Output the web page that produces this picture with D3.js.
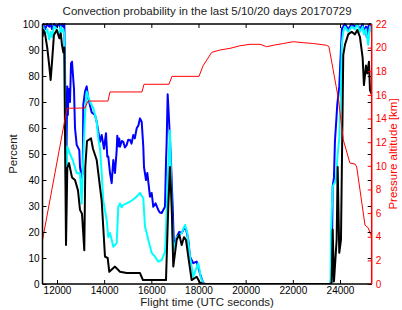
<!DOCTYPE html>
<html><head><meta charset="utf-8">
<script src="https://cdn.jsdelivr.net/npm/d3@7"></script>
<style>
body{margin:0;background:#fff}
svg{display:block}
text{font-family:"Liberation Sans",Arial,Helvetica,sans-serif}
</style>
</head><body>
<svg id="chart" width="402" height="310"></svg>
<script>
// ---- data ----
const xTicks = [12000,14000,16000,18000,20000,22000,24000];
const pctTicks = [0,10,20,30,40,50,60,70,80,90,100];
const kmTicks = [0,2,4,6,8,10,12,14,16,18,20,22];

// 20 days (blue)
const tBlue = [11385,11420,11490,11590,11670,11730,11790,11870,11990,12100,12160,12210,12270,12310,12339,12382,12400,12437,12460,12479,12509,12551,12595,12636,12721,12763,12835,12946,12975,13047,13090,13115,13187,13259,13327,13471,13611,13683,13751,13823,13895,13993,14077,14132,14175,14247,14319,14387,14459,14531,14556,14600,14640,14671,14750,14811,14880,14955,15020,15095,15160,15235,15300,15379,15450,15519,15591,15659,15689,15774,15829,15943,16015,16083,16180,16295,16360,16439,16579,16622,16651,16693,16740,16821,16905,16961,17075,17180,17287,17427,17500,17567,17639,17779,17923,18063,18200,18300,23600,23647,23690,23745,23787,23830,23885,23970,24029,24084,24139,24211,24351,24495,24635,24733,24847,24961,25016,25102,25131,25199,25271,25343];
const pBlue = [99,100,98,100,99,100,98,100,99,100,98,100,99,100,84,37,50,76,65,72.7,75,70,84.9,85.5,75,60,53.5,51.5,45,41,42.7,69,74,76,71.4,66,65,62.4,58.6,54.7,57.3,52,58,49,49,42.7,38.8,47.7,42.7,51.5,57,53,56,52.8,55,54.7,52.5,53.5,55.5,55.4,54,57.3,56,59.9,61,63.7,62.4,53,45,40,42.7,33.6,35,29.7,31,28.5,27.5,27.3,29.7,46.5,55,73,65,50,30,14,18,20,19.6,22,20,17,10.5,8,8.6,4,0.3,0,0,5,37.4,41,55,61,69,76,88,98.3,99,100,98,100,99,100,98,100,97,99,95,99,100,98];

// 10 days (cyan)
const tCyan = [11385,11420,11490,11590,11670,11730,11790,11870,11990,12100,12160,12210,12270,12310,12339,12382,12437,12551,12666,12835,12975,13047,13115,13187,13259,13399,13539,13683,13751,13823,13895,13963,14107,14175,14247,14319,14387,14531,14599,14671,14740,14811,14950,15095,15230,15379,15519,15659,15731,15803,15871,16015,16155,16295,16439,16579,16610,16640,16719,16791,16863,16931,17075,17287,17427,17525,17639,17779,17991,18093,18200,23600,23618,23690,23830,23902,23970,24029,24084,24139,24211,24351,24495,24635,24733,24847,24961,25016,25102,25199,25271,25343];
const pCyan = [97,99,96,98,94,97,95,99,98,96,99,97,98,96,70,37.4,52.8,50,47.7,42.6,42.6,31,49,65,74,70,67.7,62.4,56,52,42.7,32,24.6,18,19.6,17,14.3,15.7,29.7,31,29.5,30.4,31,31.7,32.5,33.6,35,33,22,19.6,17,12,10.5,8.6,9.2,12.4,17,26,45,59,30,13,18,19.6,22.7,19.6,10.5,2.8,8,2.8,0,0,19.6,37.4,40,50,56,71.5,93,97,99,97,99,98,100,97,99,96,98,92,99,97];

// 5 days (black)
const tBlack = [11385,11420,11490,11590,11670,11730,11790,11870,11990,12100,12160,12210,12270,12310,12339,12382,12437,12509,12636,12763,12890,12975,13060,13157,13200,13272,13442,13526,13683,13895,14035,14149,14217,14459,14671,14955,15519,15646,16622,16719,16791,16863,16931,17075,17186,17287,17385,17470,17567,17711,17923,18063,18200,23600,23647,23690,23745,23859,23902,23970,24042,24139,24211,24351,24495,24635,24733,24847,24961,25016,25102,25157,25229,25271,25343];
const pBlack = [95,97.7,96.4,90.6,84,78.5,85.5,95.8,97.7,94.5,96.4,92,89,91,60,15,44.6,46.5,41,40,36,28.5,27,13,45,55,56,52,47.7,32,10.5,10,4.7,6.7,4.7,4.2,4.2,1.5,1.5,30,45,30,6.7,17,19,15,18,17,10.5,1.5,2.8,0.5,0,0,0.5,21,1,17,45,12,17,88,92,96,97,96,97.7,95,87,76.5,84,81,85.5,74.6,73];

// pressure altitude (red, km)
const tAlt = [11385,12424,13187,13314,14162,14247,15604,15689,16749,16876,18021,18190,18559,18911,19335,19759,20183,20607,20890,21170,21600,22020,22440,22870,23430,23530,23930,24140,24420,24640,24710,25060,25200,25340];
const kmAlt = [3.72,14.87,14.89,15.48,15.48,16.25,16.25,16.9,16.9,17.57,17.57,18.45,19.6,19.8,19.94,20.16,20.28,20.28,20.08,20.2,20.35,20.5,20.42,20.35,20.2,20.1,15.7,12.2,10.24,10.15,9.9,4.99,4.74,4.0];

// ---- layout ----
const L = 42.5, R = 371.7, T = 24, B = 284;
const svg = d3.select("#chart");
const x = d3.scaleLinear().domain([11385, 25345]).range([L, R]);
const y = d3.scaleLinear().domain([0, 100]).range([B, T]);
const yR = d3.scaleLinear().domain([0, 22]).range([B, T]);

svg.append("defs").append("clipPath").attr("id","clip")
  .append("rect").attr("x",L).attr("y",T-1).attr("width",R-L).attr("height",B-T+1);

const plot = svg.append("g").attr("clip-path","url(#clip)");
function drawSeries(ts, vs, sc, color, w){
  const pts = ts.map((t,i)=>[t, vs[i]]);
  plot.append("path").datum(pts)
    .attr("fill","none").attr("stroke",color).attr("stroke-width",w)
    .attr("stroke-linejoin","round")
    .attr("d", d3.line().x(d=>x(d[0])).y(d=>sc(d[1])));
}
drawSeries(tBlue, pBlue, y, "#0000ff", 2);
drawSeries(tCyan, pCyan, y, "#00ffff", 2);
drawSeries(tBlack, pBlack, y, "#000000", 2);
drawSeries(tAlt, kmAlt, yR, "#ff0000", 1);

// ---- axes ----
const fs = "10px";
const gB = svg.append("g").attr("transform",`translate(0,${B})`)
  .call(d3.axisBottom(x).tickValues(xTicks).tickSize(-4).tickPadding(3).tickFormat(d3.format("d")));
const gT = svg.append("g").attr("transform",`translate(0,${T})`)
  .call(d3.axisTop(x).tickValues(xTicks).tickSize(-4).tickFormat(""));
const gL = svg.append("g").attr("transform",`translate(${L},0)`)
  .call(d3.axisLeft(y).tickValues(pctTicks).tickSize(-4).tickPadding(3));
const gRm = svg.append("g").attr("transform",`translate(${R},0)`)
  .call(d3.axisRight(y).tickValues(pctTicks).tickSize(-4).tickFormat(""));
const gR = svg.append("g").attr("transform",`translate(${R},0)`)
  .call(d3.axisRight(yR).tickValues(kmTicks).tickSize(-4).tickPadding(4));

[gB,gT,gL,gRm].forEach(g=>{
  g.selectAll("path.domain").remove();
  g.selectAll("line").attr("stroke","#000").attr("stroke-width",1);
  g.selectAll("text").attr("fill","#000").style("font-size",fs);
});
gR.selectAll("path.domain").remove();
gR.selectAll("line").attr("stroke","#ff0000").attr("stroke-width",1);
gR.selectAll("text").attr("fill","#ff0000").style("font-size",fs);

// frame
svg.append("line").attr("x1",L).attr("x2",R).attr("y1",B).attr("y2",B).attr("stroke","#000").attr("stroke-width",1.5);
svg.append("line").attr("x1",L).attr("x2",R).attr("y1",T).attr("y2",T).attr("stroke","#000").attr("stroke-width",1.5);
svg.append("line").attr("x1",L).attr("x2",L).attr("y1",T).attr("y2",B).attr("stroke","#000").attr("stroke-width",1.5);
svg.append("line").attr("x1",R).attr("x2",R).attr("y1",T).attr("y2",B).attr("stroke","#ff0000").attr("stroke-width",1.5);

// labels
svg.append("text").attr("x",(L+R)/2).attr("y",15).attr("text-anchor","middle")
  .style("font-size","11.5px").attr("fill","#222").text("Convection probability in the last 5/10/20 days 20170729");
svg.append("text").attr("x",(L+R)/2).attr("y",306).attr("text-anchor","middle")
  .style("font-size","11.5px").attr("fill","#222").text("Flight time (UTC seconds)");
svg.append("text").attr("transform",`translate(17,${(T+B)/2}) rotate(-90)`).attr("text-anchor","middle")
  .style("font-size","11.5px").attr("fill","#222").text("Percent");
svg.append("text").attr("transform",`translate(397,${(T+B)/2}) rotate(-90)`).attr("text-anchor","middle")
  .style("font-size","11.5px").attr("fill","#ff0000").text("Pressure altitude [km]");
</script>
</body></html>
